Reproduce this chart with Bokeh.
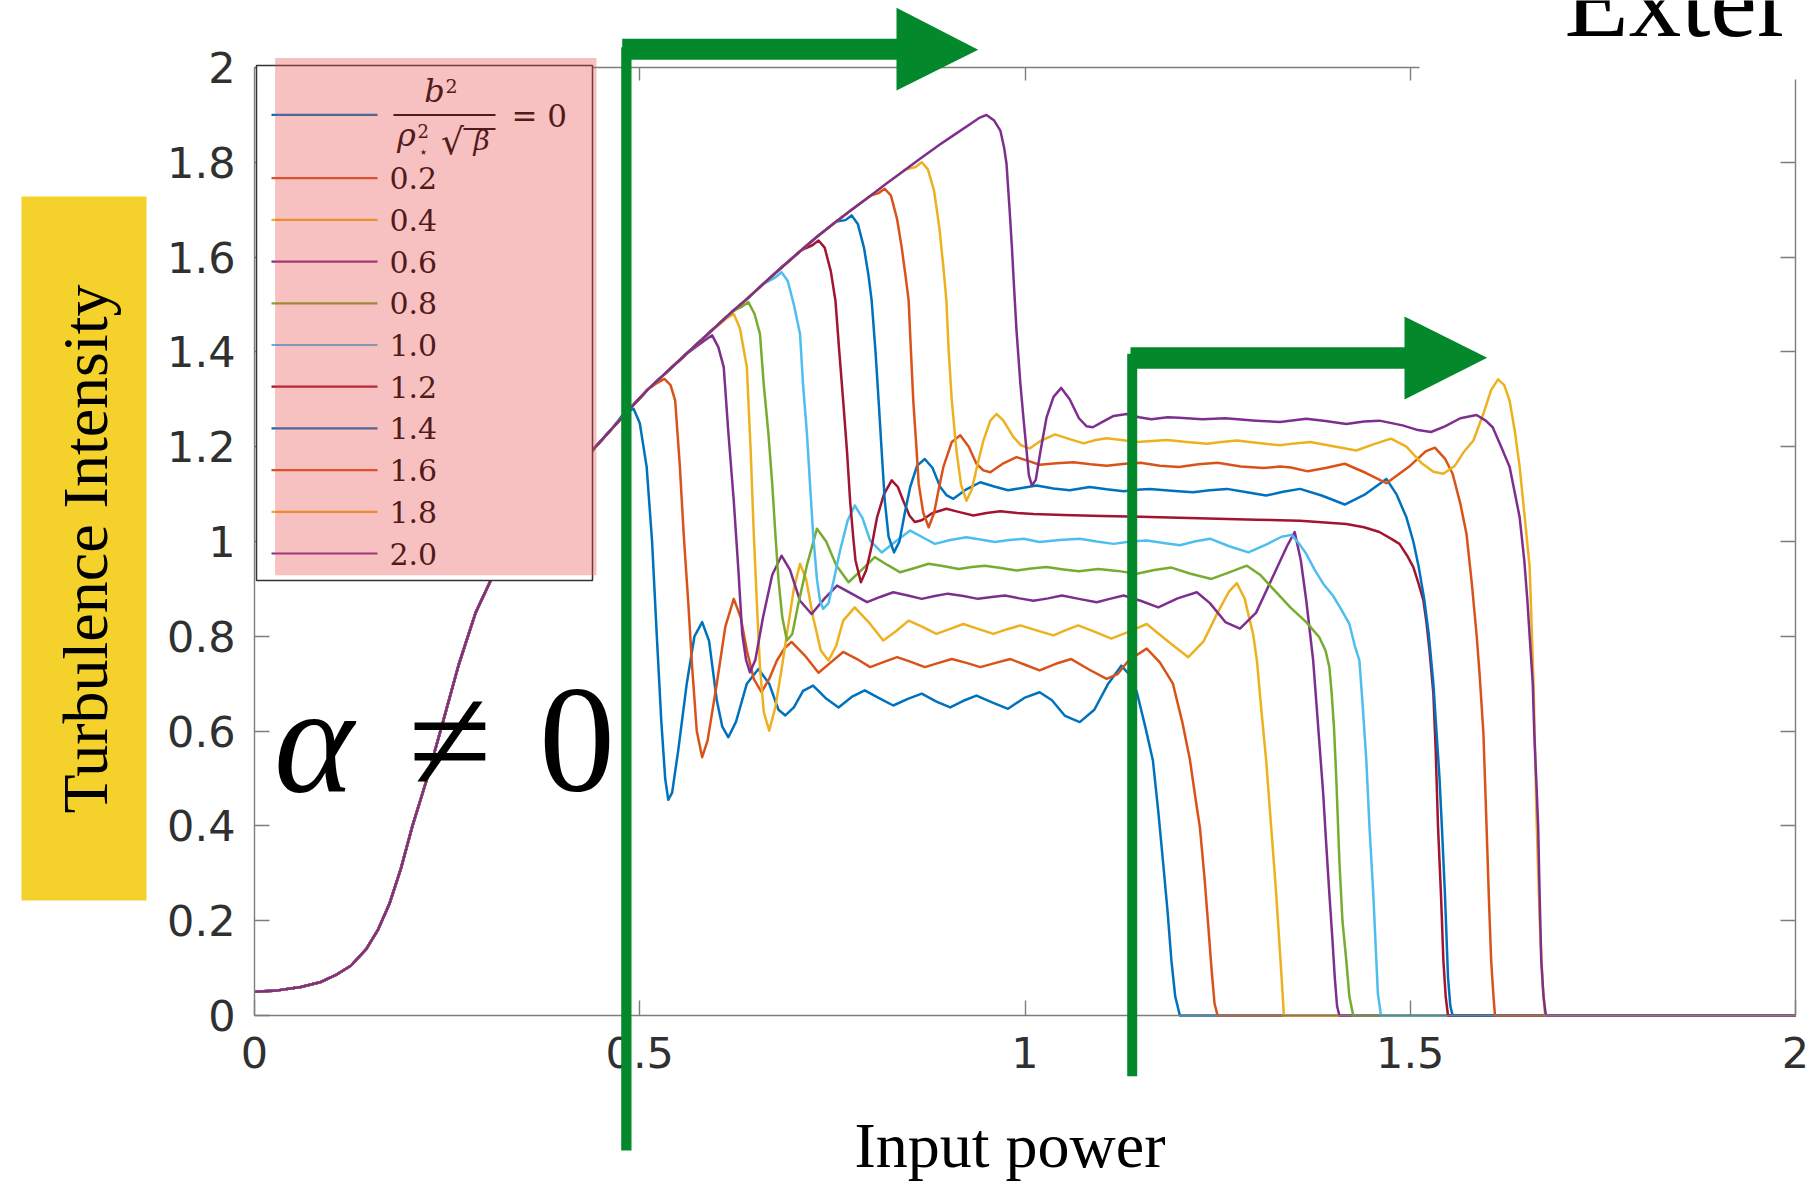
import math
from bokeh.plotting import figure
from bokeh.models import (Range1d, FixedTicker, LinearAxis, BoxAnnotation,
                          PolyAnnotation, Label, Arrow)
from bokeh.embed import file_html
from bokeh.resources import INLINE

# ---------------------------------------------------------------- data
X_TICKS = [0, 0.5, 1, 1.5, 2]
X_TICK_LABELS = ["0", "0.5", "1", "1.5", "2"]
Y_TICKS = [0, 0.2, 0.4, 0.6, 0.8, 1.0, 1.2, 1.4, 1.6, 1.8, 2.0]
Y_TICK_LABELS = ["0", "0.2", "0.4", "0.6", "0.8", "1", "1.2", "1.4", "1.6", "1.8", "2"]
TOP_TICKS = [0.5, 1, 1.5]
RIGHT_TICKS = [0.2, 0.4, 0.6, 0.8, 1.0, 1.2, 1.4, 1.6, 1.8]

SERIES_LABELS = ["0", "0.2", "0.4", "0.6", "0.8", "1.0", "1.2", "1.4", "1.6", "1.8", "2.0"]
SERIES_COLORS = ["#0072BD", "#D95319", "#EDB120", "#7E2F8E", "#77AC30", "#4DBEEE",
                 "#A2142F", "#0072BD", "#D95319", "#EDB120", "#7E2F8E"]

# shared rising branch (all curves follow it until they jump down)
ENV = [(0.0, 0.050), (0.03, 0.053), (0.06, 0.060), (0.085, 0.070), (0.105, 0.085),
       (0.125, 0.105), (0.145, 0.140), (0.16, 0.180), (0.175, 0.235), (0.19, 0.310),
       (0.205, 0.400), (0.224, 0.500), (0.243, 0.610), (0.265, 0.740), (0.287, 0.850),
       (0.31, 0.930), (0.35, 1.030), (0.39, 1.110), (0.44, 1.195), (0.465, 1.240),
       (0.49, 1.285), (0.51, 1.320), (0.53, 1.350), (0.56, 1.395), (0.59, 1.440),
       (0.62, 1.485), (0.64, 1.513), (0.66, 1.543), (0.684, 1.578), (0.71, 1.615),
       (0.73, 1.643), (0.755, 1.675), (0.775, 1.700), (0.80, 1.730), (0.82, 1.755),
       (0.845, 1.785), (0.866, 1.810), (0.89, 1.838), (0.91, 1.860), (0.93, 1.882)]

PTS_00 = [(0.480, 1.272), (0.492, 1.280), (0.500, 1.250), (0.509, 1.157), (0.516, 1.000),
          (0.522, 0.805), (0.528, 0.620), (0.533, 0.500), (0.537, 0.455), (0.542, 0.470),
          (0.550, 0.560), (0.561, 0.700), (0.571, 0.800), (0.581, 0.830), (0.590, 0.790),
          (0.600, 0.665), (0.607, 0.610), (0.615, 0.587), (0.625, 0.620), (0.639, 0.700),
          (0.654, 0.731), (0.668, 0.700), (0.680, 0.645), (0.689, 0.633), (0.700, 0.650),
          (0.712, 0.685), (0.725, 0.696), (0.741, 0.670), (0.758, 0.650), (0.775, 0.672),
          (0.792, 0.686), (0.810, 0.670), (0.829, 0.654), (0.848, 0.668), (0.866, 0.679),
          (0.885, 0.662), (0.903, 0.650), (0.920, 0.664), (0.937, 0.675), (0.958, 0.660),
          (0.978, 0.647), (0.999, 0.670), (1.019, 0.682), (1.035, 0.665), (1.052, 0.632),
          (1.071, 0.619), (1.090, 0.645), (1.108, 0.700), (1.125, 0.738), (1.135, 0.720),
          (1.145, 0.683), (1.156, 0.610), (1.166, 0.538), (1.173, 0.430), (1.179, 0.327),
          (1.185, 0.220), (1.190, 0.116), (1.195, 0.040), (1.201, 0.0), (2.0, 0.0)]

PTS_01 = [(0.520, 1.332), (0.532, 1.343), (0.540, 1.330), (0.546, 1.297), (0.552, 1.160),
          (0.557, 1.016), (0.563, 0.870), (0.568, 0.735), (0.574, 0.600), (0.581, 0.545),
          (0.588, 0.580), (0.600, 0.700), (0.611, 0.820), (0.622, 0.879), (0.631, 0.840),
          (0.639, 0.770), (0.648, 0.710), (0.658, 0.682), (0.668, 0.710), (0.678, 0.749),
          (0.688, 0.775), (0.697, 0.788), (0.714, 0.760), (0.732, 0.723), (0.748, 0.745),
          (0.764, 0.767), (0.782, 0.752), (0.799, 0.735), (0.817, 0.746), (0.834, 0.756),
          (0.852, 0.746), (0.870, 0.735), (0.888, 0.744), (0.905, 0.752), (0.924, 0.744),
          (0.942, 0.735), (0.962, 0.744), (0.981, 0.752), (1.000, 0.740), (1.019, 0.728),
          (1.040, 0.742), (1.060, 0.752), (1.083, 0.730), (1.106, 0.710), (1.120, 0.720),
          (1.135, 0.750), (1.158, 0.774), (1.175, 0.745), (1.192, 0.700), (1.204, 0.620),
          (1.214, 0.540), (1.222, 0.450), (1.227, 0.397), (1.233, 0.290), (1.238, 0.186),
          (1.242, 0.100), (1.246, 0.025), (1.250, 0.0), (2.0, 0.0)]

PTS_02 = [(0.612, 1.470), (0.622, 1.480), (0.630, 1.450), (0.639, 1.368), (0.644, 1.190),
          (0.648, 1.016), (0.652, 0.870), (0.656, 0.735), (0.661, 0.640), (0.668, 0.601),
          (0.676, 0.650), (0.684, 0.730), (0.691, 0.805), (0.700, 0.900), (0.708, 0.953),
          (0.716, 0.920), (0.725, 0.840), (0.735, 0.770), (0.745, 0.749), (0.755, 0.780),
          (0.764, 0.833), (0.779, 0.861), (0.797, 0.830), (0.816, 0.791), (0.832, 0.810),
          (0.849, 0.833), (0.867, 0.820), (0.885, 0.805), (0.902, 0.815), (0.920, 0.826),
          (0.940, 0.815), (0.959, 0.805), (0.977, 0.815), (0.994, 0.823), (1.016, 0.812),
          (1.037, 0.802), (1.053, 0.813), (1.069, 0.823), (1.090, 0.810), (1.112, 0.795),
          (1.135, 0.810), (1.158, 0.826), (1.185, 0.790), (1.212, 0.756), (1.232, 0.790),
          (1.250, 0.850), (1.265, 0.895), (1.275, 0.912), (1.285, 0.880), (1.296, 0.805),
          (1.301, 0.749), (1.307, 0.640), (1.313, 0.538), (1.318, 0.430), (1.326, 0.257),
          (1.333, 0.081), (1.336, 0.0), (2.0, 0.0)]

PTS_03 = [(0.585, 1.425), (0.594, 1.435), (0.602, 1.410), (0.609, 1.368), (0.615, 1.230),
          (0.622, 1.086), (0.628, 0.940), (0.633, 0.805), (0.638, 0.750), (0.643, 0.724),
          (0.650, 0.750), (0.660, 0.840), (0.672, 0.930), (0.684, 0.970), (0.695, 0.940),
          (0.708, 0.875), (0.723, 0.847), (0.740, 0.880), (0.756, 0.907), (0.775, 0.890),
          (0.795, 0.872), (0.812, 0.883), (0.829, 0.893), (0.848, 0.886), (0.866, 0.879),
          (0.883, 0.885), (0.900, 0.890), (0.920, 0.885), (0.939, 0.879), (0.957, 0.883),
          (0.974, 0.886), (0.993, 0.880), (1.011, 0.875), (1.030, 0.880), (1.048, 0.886),
          (1.070, 0.879), (1.093, 0.872), (1.110, 0.879), (1.128, 0.886), (1.150, 0.875),
          (1.173, 0.861), (1.198, 0.880), (1.223, 0.893), (1.240, 0.870), (1.260, 0.830),
          (1.279, 0.816), (1.300, 0.850), (1.320, 0.920), (1.340, 0.990), (1.350, 1.020),
          (1.358, 0.960), (1.365, 0.876), (1.374, 0.749), (1.380, 0.620), (1.387, 0.468),
          (1.391, 0.360), (1.395, 0.257), (1.399, 0.160), (1.402, 0.081), (1.405, 0.020),
          (1.408, 0.0), (2.0, 0.0)]

PTS_04 = [(0.632, 1.495), (0.641, 1.505), (0.649, 1.480), (0.656, 1.438), (0.661, 1.330),
          (0.667, 1.227), (0.672, 1.120), (0.676, 1.016), (0.680, 0.920), (0.685, 0.840),
          (0.691, 0.791), (0.698, 0.805), (0.706, 0.870), (0.717, 0.950), (0.730, 1.027),
          (0.742, 1.000), (0.755, 0.950), (0.771, 0.914), (0.788, 0.940), (0.805, 0.967),
          (0.822, 0.950), (0.838, 0.935), (0.857, 0.944), (0.875, 0.953), (0.895, 0.948),
          (0.914, 0.942), (0.931, 0.946), (0.948, 0.949), (0.969, 0.944), (0.989, 0.939),
          (1.008, 0.943), (1.028, 0.946), (1.050, 0.941), (1.070, 0.937), (1.095, 0.942),
          (1.120, 0.938), (1.145, 0.932), (1.168, 0.940), (1.190, 0.945), (1.215, 0.932),
          (1.242, 0.921), (1.265, 0.935), (1.288, 0.949), (1.305, 0.930), (1.322, 0.900),
          (1.345, 0.860), (1.365, 0.830), (1.382, 0.798), (1.390, 0.770), (1.395, 0.735),
          (1.398, 0.680), (1.401, 0.608), (1.404, 0.500), (1.408, 0.327), (1.412, 0.200),
          (1.417, 0.116), (1.421, 0.040), (1.426, 0.0), (2.0, 0.0)]

PTS_05 = [(0.675, 1.556), (0.684, 1.568), (0.692, 1.550), (0.700, 1.500), (0.708, 1.438),
          (0.712, 1.330), (0.717, 1.227), (0.721, 1.120), (0.725, 1.016), (0.730, 0.920),
          (0.734, 0.875), (0.738, 0.858), (0.745, 0.870), (0.752, 0.920), (0.760, 0.981),
          (0.770, 1.045), (0.779, 1.076), (0.789, 1.050), (0.799, 1.002), (0.814, 0.977),
          (0.832, 1.000), (0.851, 1.023), (0.867, 1.009), (0.883, 0.995), (0.903, 1.003),
          (0.924, 1.009), (0.942, 1.004), (0.961, 0.999), (0.980, 1.003), (0.998, 1.006),
          (1.019, 0.999), (1.045, 1.003), (1.071, 1.006), (1.093, 1.000), (1.115, 0.995),
          (1.137, 1.000), (1.158, 1.002), (1.180, 0.997), (1.201, 0.992), (1.220, 1.000),
          (1.240, 1.006), (1.265, 0.990), (1.290, 0.977), (1.315, 0.995), (1.333, 1.010),
          (1.346, 1.014), (1.356, 0.995), (1.365, 0.974), (1.376, 0.940), (1.387, 0.911),
          (1.400, 0.885), (1.410, 0.858), (1.421, 0.826), (1.428, 0.780), (1.434, 0.749),
          (1.438, 0.660), (1.443, 0.538), (1.447, 0.400), (1.452, 0.257), (1.455, 0.150),
          (1.458, 0.046), (1.462, 0.0), (2.0, 0.0)]

PTS_06 = [(0.724, 1.625), (0.732, 1.635), (0.740, 1.620), (0.748, 1.570), (0.754, 1.508),
          (0.759, 1.400), (0.764, 1.297), (0.769, 1.190), (0.773, 1.086), (0.777, 1.010),
          (0.780, 0.960), (0.787, 0.914), (0.794, 0.940), (0.801, 0.990), (0.808, 1.051),
          (0.817, 1.100), (0.827, 1.129), (0.835, 1.115), (0.842, 1.086), (0.850, 1.055),
          (0.857, 1.041), (0.866, 1.045), (0.880, 1.060), (0.898, 1.069), (0.915, 1.062),
          (0.933, 1.055), (0.950, 1.060), (0.968, 1.064), (0.990, 1.060), (1.011, 1.058),
          (1.050, 1.056), (1.100, 1.054), (1.150, 1.052), (1.200, 1.050), (1.250, 1.048),
          (1.300, 1.046), (1.357, 1.044), (1.417, 1.037), (1.440, 1.030), (1.460, 1.020),
          (1.476, 1.005), (1.486, 0.995), (1.496, 0.970), (1.504, 0.946), (1.511, 0.910),
          (1.517, 0.876), (1.521, 0.830), (1.525, 0.770), (1.530, 0.679), (1.533, 0.560),
          (1.536, 0.400), (1.540, 0.250), (1.543, 0.116), (1.546, 0.040), (1.549, 0.0),
          (2.0, 0.0)]

PTS_07 = [(0.767, 1.678), (0.775, 1.688), (0.783, 1.670), (0.791, 1.620), (0.797, 1.560),
          (0.801, 1.508), (0.806, 1.400), (0.810, 1.297), (0.814, 1.190), (0.818, 1.086),
          (0.823, 1.010), (0.830, 0.977), (0.837, 1.000), (0.844, 1.060), (0.851, 1.115),
          (0.860, 1.160), (0.870, 1.174), (0.880, 1.155), (0.890, 1.115), (0.898, 1.098),
          (0.907, 1.090), (0.924, 1.110), (0.942, 1.125), (0.960, 1.116), (0.978, 1.108),
          (0.996, 1.113), (1.015, 1.118), (1.037, 1.112), (1.058, 1.108), (1.084, 1.115),
          (1.106, 1.110), (1.128, 1.106), (1.145, 1.109), (1.162, 1.111), (1.190, 1.107),
          (1.218, 1.104), (1.240, 1.108), (1.262, 1.111), (1.288, 1.104), (1.313, 1.097),
          (1.335, 1.105), (1.357, 1.111), (1.385, 1.097), (1.415, 1.078), (1.442, 1.100),
          (1.469, 1.132), (1.482, 1.100), (1.495, 1.051), (1.504, 1.000), (1.511, 0.946),
          (1.518, 0.880), (1.524, 0.805), (1.530, 0.700), (1.534, 0.600), (1.538, 0.500),
          (1.541, 0.400), (1.545, 0.257), (1.549, 0.081), (1.552, 0.020), (1.555, 0.0),
          (2.0, 0.0)]

PTS_08 = [(0.810, 1.735), (0.818, 1.744), (0.826, 1.730), (0.834, 1.680), (0.840, 1.620),
          (0.845, 1.560), (0.849, 1.508), (0.852, 1.400), (0.855, 1.297), (0.859, 1.200),
          (0.862, 1.122), (0.868, 1.060), (0.875, 1.030), (0.882, 1.060), (0.888, 1.110),
          (0.894, 1.157), (0.905, 1.210), (0.916, 1.224), (0.927, 1.200), (0.937, 1.164),
          (0.946, 1.150), (0.955, 1.146), (0.972, 1.165), (0.989, 1.178), (1.004, 1.170),
          (1.019, 1.162), (1.041, 1.165), (1.063, 1.167), (1.085, 1.163), (1.106, 1.160),
          (1.130, 1.164), (1.150, 1.166), (1.175, 1.160), (1.200, 1.157), (1.225, 1.163),
          (1.250, 1.166), (1.280, 1.158), (1.310, 1.155), (1.331, 1.158), (1.345, 1.156),
          (1.367, 1.148), (1.390, 1.155), (1.415, 1.164), (1.442, 1.145), (1.469, 1.123),
          (1.500, 1.160), (1.520, 1.190), (1.532, 1.198), (1.545, 1.175), (1.555, 1.143),
          (1.565, 1.080), (1.573, 1.016), (1.580, 0.910), (1.586, 0.805), (1.590, 0.720),
          (1.595, 0.594), (1.599, 0.400), (1.602, 0.250), (1.605, 0.116), (1.608, 0.040),
          (1.610, 0.0), (2.0, 0.0)]

PTS_09 = [(0.858, 1.790), (0.866, 1.800), (0.874, 1.785), (0.882, 1.740), (0.889, 1.660),
          (0.894, 1.580), (0.898, 1.508), (0.901, 1.400), (0.905, 1.297), (0.911, 1.192),
          (0.917, 1.120), (0.924, 1.086), (0.931, 1.110), (0.938, 1.160), (0.946, 1.213),
          (0.955, 1.255), (0.963, 1.269), (0.972, 1.255), (0.985, 1.220), (0.995, 1.203),
          (1.006, 1.196), (1.020, 1.212), (1.039, 1.226), (1.058, 1.216), (1.076, 1.207),
          (1.092, 1.214), (1.106, 1.218), (1.125, 1.214), (1.145, 1.210), (1.165, 1.212),
          (1.184, 1.214), (1.210, 1.210), (1.236, 1.206), (1.255, 1.210), (1.275, 1.213),
          (1.303, 1.208), (1.331, 1.203), (1.350, 1.207), (1.370, 1.210), (1.400, 1.201),
          (1.430, 1.192), (1.452, 1.205), (1.475, 1.217), (1.495, 1.200), (1.515, 1.165),
          (1.530, 1.147), (1.543, 1.143), (1.558, 1.160), (1.570, 1.190), (1.582, 1.213),
          (1.595, 1.270), (1.605, 1.320), (1.614, 1.342), (1.622, 1.330), (1.629, 1.297),
          (1.636, 1.230), (1.642, 1.157), (1.648, 1.060), (1.655, 0.946), (1.660, 0.700),
          (1.664, 0.411), (1.668, 0.200), (1.672, 0.060), (1.675, 0.0), (2.0, 0.0)]

PTS_10 = [(0.940, 1.893), (0.950, 1.900), (0.960, 1.888), (0.968, 1.867), (0.973, 1.830),
          (0.976, 1.797), (0.980, 1.700), (0.983, 1.621), (0.986, 1.530), (0.989, 1.445),
          (0.994, 1.333), (0.998, 1.260), (1.002, 1.192), (1.005, 1.140), (1.009, 1.118),
          (1.014, 1.130), (1.020, 1.190), (1.028, 1.262), (1.037, 1.305), (1.047, 1.324),
          (1.058, 1.300), (1.070, 1.260), (1.080, 1.243), (1.088, 1.241), (1.100, 1.252),
          (1.115, 1.265), (1.132, 1.269), (1.148, 1.262), (1.164, 1.258), (1.185, 1.262),
          (1.200, 1.261), (1.230, 1.258), (1.260, 1.260), (1.300, 1.255), (1.331, 1.252),
          (1.365, 1.259), (1.390, 1.254), (1.417, 1.248), (1.440, 1.253), (1.460, 1.255),
          (1.490, 1.245), (1.510, 1.235), (1.527, 1.231), (1.545, 1.243), (1.565, 1.260),
          (1.586, 1.267), (1.598, 1.255), (1.607, 1.241), (1.618, 1.200), (1.629, 1.157),
          (1.636, 1.100), (1.642, 1.051), (1.648, 0.960), (1.652, 0.876), (1.655, 0.800),
          (1.659, 0.700), (1.661, 0.594), (1.664, 0.480), (1.666, 0.400), (1.668, 0.250),
          (1.670, 0.116), (1.673, 0.040), (1.676, 0.0), (2.0, 0.0)]

CURVES = [PTS_00, PTS_01, PTS_02, PTS_03, PTS_04, PTS_05,
          PTS_06, PTS_07, PTS_08, PTS_09, PTS_10]

# ---------------------------------------------------------------- layout
W, H = 1812, 1184
# page pixel of data (0,0) and scale (px per data unit)
PX0, PY0, SX, SY = 254.0, 1015.0, 770.5, 474.0

# the frame spans the whole canvas; axes are pinned at the data box edges
p = figure(width=W, height=H,
           x_range=Range1d(-PX0 / SX, (W - PX0) / SX),
           y_range=Range1d(-(H - PY0) / SY, PY0 / SY),
           x_axis_type=None, y_axis_type=None, title=None,
           output_backend="svg", toolbar_location=None, min_border=0)
p.outline_line_color = None
p.background_fill_color = "white"
p.border_fill_color = "white"

AX_COL = "#7d7d7d"
LBL_COL = "#303030"


def make_axis(ticks, loc, tick_in, labels=None, standoff=0):
    ax = LinearAxis(ticker=FixedTicker(ticks=ticks, minor_ticks=[]),
                    fixed_location=loc, bounds=(0, 2),
                    axis_line_color=AX_COL, axis_line_width=1.4,
                    major_tick_line_color=AX_COL, major_tick_line_width=1.4,
                    major_tick_in=tick_in, major_tick_out=0,
                    minor_tick_line_color=None)
    if labels is None:
        ax.major_label_text_color = None
        ax.major_label_text_font_size = "10px"
    else:
        ax.major_label_overrides = {t: s for t, s in zip(ticks, labels)}
        ax.major_label_text_font = "DejaVu Sans"
        ax.major_label_text_font_size = "43px"
        ax.major_label_text_color = LBL_COL
        ax.major_label_standoff = standoff
    return ax


p.add_layout(make_axis(X_TICKS, 0, 15, X_TICK_LABELS, 21), "below")
p.add_layout(make_axis(Y_TICKS, 0, 15, Y_TICK_LABELS, 19), "left")
p.add_layout(make_axis(TOP_TICKS, 2, 13), "above")
p.add_layout(make_axis(RIGHT_TICKS, 2, 15), "right")

# curves
for pts, col in zip(CURVES, SERIES_COLORS):
    start = pts[0][0]
    seq = [q for q in ENV if q[0] < start] + pts
    p.line([q[0] for q in seq], [q[1] for q in seq],
           line_color=col, line_width=2.5, line_join="round")

# ---------------------------------------------------------------- overlays
# helpers: convert page-pixel positions of decorations into data coordinates
def rx(px):
    return (px - PX0) / SX


def ry(py):
    return (PY0 - py) / SY


def box(l, r, t, b, color, alpha=1.0, line_color=None, line_width=1.0):
    p.add_layout(BoxAnnotation(left=rx(l), right=rx(r), top=ry(t), bottom=ry(b),
                               fill_color=color, fill_alpha=alpha,
                               line_color=line_color, line_width=line_width,
                               line_alpha=1.0))


def label(text, px, py, size, font="Liberation Serif", style="normal",
          align="left", anchor="baseline", angle=0.0, color="black"):
    # texts are anchored on their middle; for a "baseline" anchor the middle
    # lies about a third of the font size above the baseline
    if anchor == "baseline":
        k = 0.34 * size
        if angle == 0.0:
            py -= k
        else:
            px -= k
    p.add_layout(Label(x=rx(px), y=ry(py), text=text, text_font=font,
                       text_font_size=f"{size}px", text_font_style=style,
                       text_align=align, text_baseline="middle", angle=angle,
                       text_color=color))


def poly(pts, color):
    p.add_layout(PolyAnnotation(xs=[rx(a) for a, _ in pts], ys=[ry(b) for _, b in pts],
                                fill_color=color, fill_alpha=1.0, line_color=None))


# legend box
box(256, 592, 65, 580, "white", 1.0, line_color="#333333", line_width=1.5)
row_y = [114.4] + [177.7 + 41.7 * i for i in range(10)]
for i, (col, txt) in enumerate(zip(SERIES_COLORS, SERIES_LABELS)):
    p.add_layout(Arrow(x_start=rx(271), y_start=ry(row_y[i]), x_end=rx(377),
                       y_end=ry(row_y[i]), start=None, end=None,
                       line_color=col, line_width=2.2))
    if i > 0:
        label(txt, 389, row_y[i], 30, font="DejaVu Serif", anchor="middle")
# first entry: b^2 / (rho_*^2 sqrt(beta)) = 0
label("b", 434, 101.5, 32, font="DejaVu Serif", style="italic", align="center")
label("2", 445, 92, 19, font="DejaVu Serif")
box(393, 495, 113.4, 115.6, "black")
label("ρ", 406, 145, 32, font="DejaVu Serif", style="italic", align="center")
label("2", 417, 137, 18, font="DejaVu Serif")
label("⋆", 423, 151.5, 15, font="DejaVu Sans", align="center", anchor="middle")
label("√", 452, 153, 36, font="DejaVu Serif", align="center")
box(463, 495, 127.6, 129.4, "black")
label("β", 481, 150, 28, font="DejaVu Serif", style="italic", align="center")
label("= 0", 511, 126, 31, font="DejaVu Serif")
# translucent pink highlight
box(274.6, 596, 57.6, 574.7, "#E54E4B", 0.35)

# yellow y-title box and titles
box(21, 146, 196, 900, "#F4D22B", 1.0)
label("Turbulence Intensity", 107, 548.5, 64, align="center", angle=math.pi / 2)
label("Input power", 1009.5, 1167, 64, align="center")

# alpha != 0
label("α", 313.5, 792, 152, style="italic", align="center")
label("≠", 449.5, 792, 152, align="center")
label("0", 576.5, 792, 152, align="center")

# green arrows
GREEN = "#03892C"
box(620.7, 631, 46.7, 1150, GREEN)
box(621.7, 897, 38.3, 59.3, GREEN)
poly([(896, 7.3), (896, 90), (977.7, 49.3)], GREEN)
box(1126.7, 1136.7, 353.3, 1075.7, GREEN)
box(1130, 1405, 346.7, 368.3, GREEN)
poly([(1404, 316), (1404, 399), (1486.7, 357.3)], GREEN)

# white text box top right (its text runs off the top edge, as in the source)
box(1419, 1830, -20, 79, "white", 1.0)
label("Exter", 1564, 36, 105)

open("out.html", "w").write(file_html(p, INLINE))
